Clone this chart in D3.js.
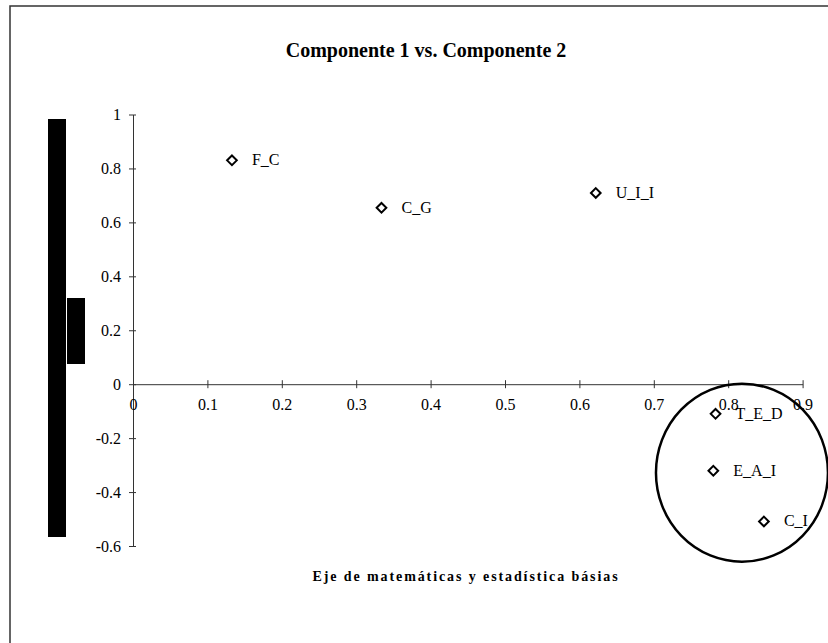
<!DOCTYPE html>
<html><head><meta charset="utf-8">
<script src="https://cdn.jsdelivr.net/npm/d3@7"></script>
<style>
html,body{margin:0;padding:0;background:#fff;}
svg{display:block;}
text{font-family:"Liberation Serif","Times New Roman",serif;fill:#000;}
</style></head>
<body>
<svg id="c" width="828" height="643"></svg>
<script>
const labels = ["F_C","C_G","U_I_I","T_E_D","E_A_I","C_I"];
const comp1 = [0.133,0.334,0.622,0.783,0.780,0.848];
const comp2 = [0.830,0.654,0.709,-0.110,-0.321,-0.509];
const xTicks = [0,0.1,0.2,0.3,0.4,0.5,0.6,0.7,0.8,0.9];
const yTicks = [-0.6,-0.4,-0.2,0,0.2,0.4,0.6,0.8,1];
const title = "Componente 1 vs. Componente 2";
const xTitle = "Eje de matemáticas y estadística básias";

const svg = d3.select("#c");
const x = d3.scaleLinear().domain([0,0.9]).range([133,802.6]);
const y = d3.scaleLinear().domain([-0.6,1]).range([546,114.5]);
const fmt = d => String(+d.toFixed(1));

// outer border
svg.append("rect").attr("x",10).attr("y",6).attr("width",840).attr("height",660)
  .attr("fill","none").attr("stroke","#333").attr("stroke-width",1.5);

// redaction bars (decorative)
svg.append("rect").attr("x",48).attr("y",119).attr("width",18).attr("height",418).attr("fill","#000");
svg.append("rect").attr("x",67).attr("y",298).attr("width",18).attr("height",66).attr("fill","#000");

// title
svg.append("text").attr("x",426).attr("y",57).attr("text-anchor","middle")
  .attr("font-size",20).attr("font-weight","bold").text(title);

// y axis
const yAxis = d3.axisLeft(y).tickValues(yTicks).tickSize(0).tickFormat(fmt);
const gy = svg.append("g").attr("transform",`translate(${x(0)},0)`).call(yAxis);
gy.attr("font-family",null).attr("font-size",null);
gy.select(".domain").attr("stroke","#333");
gy.selectAll(".tick text").attr("x",-12).attr("font-size",16);
gy.selectAll(".tick").append("line").attr("x1",-4).attr("x2",3).attr("stroke","#333");

// x axis
const xAxis = d3.axisBottom(x).tickValues(xTicks).tickSize(0).tickFormat(fmt);
const gx = svg.append("g").attr("transform",`translate(0,${y(0)})`).call(xAxis);
gx.attr("font-family",null).attr("font-size",null);
gx.select(".domain").attr("stroke","#333");
gx.selectAll(".tick text").attr("y",26).attr("dy",0).attr("font-size",16);
gx.selectAll(".tick").append("line").attr("y1",-4).attr("y2",4).attr("stroke","#333");

// x axis title
svg.append("text").attr("x",466).attr("y",581).attr("text-anchor","middle")
  .attr("font-size",14).attr("font-weight","bold").attr("letter-spacing",1.9).text(xTitle);

// circle annotation
svg.append("ellipse").attr("cx",x(0.8185)).attr("cy",y(-0.328)).attr("rx",86).attr("ry",89)
  .attr("fill","none").attr("stroke","#000").attr("stroke-width",2.5);

// points
const pts = labels.map((l,i)=>({l,cx:comp1[i],cy:comp2[i]}));
const sym = d3.symbol().type(d3.symbolDiamond2).size(60);
const g = svg.append("g");
g.selectAll("path").data(pts).join("path")
  .attr("d",sym).attr("transform",d=>`translate(${x(d.cx)},${y(d.cy)})`)
  .attr("fill","#fff").attr("stroke","#000").attr("stroke-width",2);
g.selectAll("text").data(pts).join("text")
  .attr("x",d=>x(d.cx)+20).attr("y",d=>y(d.cy)+5)
  .attr("font-size",16).text(d=>d.l);
</script>
</body></html>
